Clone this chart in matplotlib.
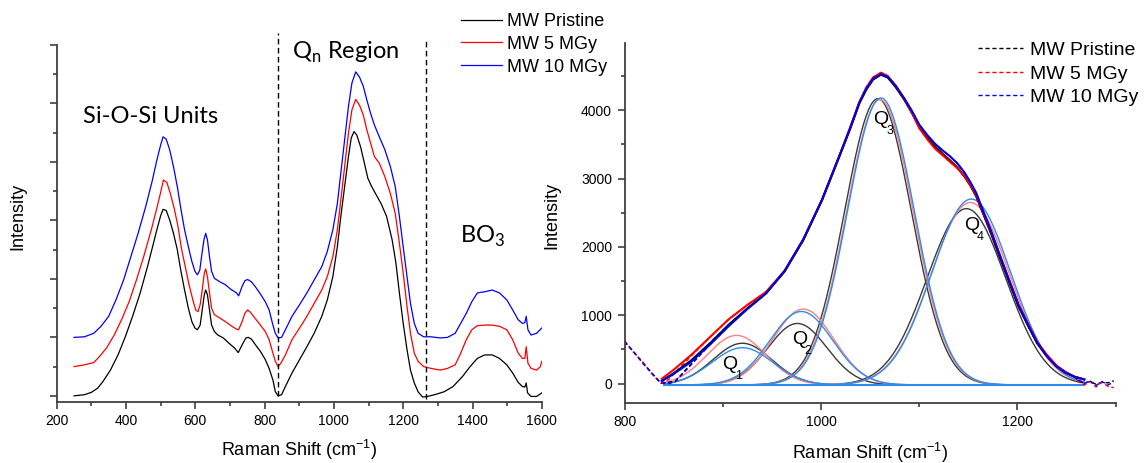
import numpy as np
import matplotlib
matplotlib.use("Agg")
import matplotlib.pyplot as plt
from matplotlib.ticker import MultipleLocator

plt.rcParams['font.family'] = ['Liberation Sans', 'DejaVu Sans']
plt.rcParams['mathtext.fontset'] = 'custom'
plt.rcParams['mathtext.rm'] = 'Liberation Sans'

# ---- left panel: full Raman spectra (offset, arbitrary intensity) ----
black_x = [250, 280, 300, 318, 334, 355, 377, 398, 419, 441, 462, 478, 489, 500, 507, 516, 526, 537, 548, 558,
           569, 580, 590, 599, 606, 614, 620, 626, 630, 635, 641, 647, 655, 665, 681, 697, 713, 724, 735, 746,
           753, 762, 774, 788, 802, 813, 824, 831, 839, 849, 860, 879, 901, 922, 943, 965, 981, 997, 1010, 1020,
           1031, 1042, 1050, 1058, 1066, 1077, 1088, 1098, 1109, 1120, 1136, 1152, 1168, 1179, 1189, 1200, 1211, 1221, 1232, 1243,
           1256, 1270, 1291, 1318, 1344, 1371, 1393, 1414, 1435, 1457, 1478, 1499, 1516, 1532, 1544, 1551, 1555, 1559, 1569, 1585,
           1600]
black_y = [0.00, 0.02, 0.06, 0.13, 0.25, 0.44, 0.70, 1.01, 1.36, 1.76, 2.21, 2.58, 2.84, 3.08, 3.19, 3.17, 3.01, 2.78, 2.50, 2.15,
           1.81, 1.50, 1.27, 1.16, 1.13, 1.21, 1.47, 1.73, 1.81, 1.73, 1.47, 1.21, 1.10, 1.04, 0.99, 0.90, 0.82, 0.74, 0.87, 0.99,
           1.00, 0.97, 0.87, 0.76, 0.62, 0.47, 0.27, 0.07, 0.00, 0.02, 0.16, 0.39, 0.62, 0.84, 1.07, 1.36, 1.64, 2.04, 2.55, 3.07,
           3.58, 4.09, 4.41, 4.52, 4.46, 4.26, 3.98, 3.72, 3.58, 3.46, 3.29, 3.07, 2.67, 2.27, 1.76, 1.24, 0.79, 0.44, 0.22, 0.07,
           -0.02, -0.01, 0.02, 0.07, 0.16, 0.33, 0.50, 0.64, 0.70, 0.70, 0.64, 0.53, 0.39, 0.23, 0.16, 0.15, 0.22, 0.05, -0.01, -0.01,
           0.05]

red_x = [250, 280, 307, 323, 344, 366, 387, 409, 430, 451, 473, 489, 500, 508, 518, 528, 539, 550, 560, 571,
         582, 593, 601, 608, 614, 620, 626, 630, 635, 641, 647, 655, 671, 687, 703, 719, 725, 735, 743, 751,
         759, 772, 788, 802, 813, 824, 831, 839, 847, 860, 879, 901, 922, 943, 965, 981, 997, 1010, 1020, 1031,
         1042, 1052, 1063, 1074, 1085, 1095, 1106, 1117, 1131, 1147, 1163, 1177, 1189, 1200, 1211, 1221, 1232, 1243, 1259, 1280,
         1307, 1328, 1350, 1366, 1382, 1398, 1414, 1435, 1457, 1478, 1499, 1516, 1532, 1544, 1551, 1555, 1560, 1569, 1585, 1596,
         1600]
red_y = [0.50, 0.53, 0.57, 0.67, 0.82, 1.04, 1.30, 1.61, 1.98, 2.38, 2.84, 3.21, 3.48, 3.69, 3.65, 3.46, 3.21, 2.90, 2.52, 2.21,
         1.90, 1.64, 1.47, 1.44, 1.56, 1.81, 2.10, 2.17, 2.04, 1.76, 1.50, 1.39, 1.33, 1.27, 1.20, 1.14, 1.13, 1.27, 1.41, 1.47,
         1.43, 1.33, 1.21, 1.10, 0.96, 0.73, 0.59, 0.50, 0.56, 0.70, 0.96, 1.16, 1.36, 1.58, 1.81, 2.04, 2.38, 2.84, 3.35, 3.92,
         4.49, 4.89, 5.07, 4.97, 4.80, 4.55, 4.32, 4.09, 3.98, 3.75, 3.46, 3.12, 2.61, 2.10, 1.53, 1.07, 0.73, 0.59, 0.50, 0.47,
         0.44, 0.47, 0.53, 0.73, 0.96, 1.13, 1.20, 1.21, 1.21, 1.19, 1.13, 0.96, 0.73, 0.64, 0.64, 0.84, 0.56, 0.47, 0.44, 0.50,
         0.59]

blue_x = [250, 280, 307, 328, 350, 371, 393, 414, 435, 457, 475, 489, 500, 507, 516, 526, 537, 548, 558, 569,
          580, 590, 599, 606, 613, 618, 625, 630, 635, 641, 647, 655, 671, 687, 703, 719, 725, 735, 743, 751,
          762, 774, 788, 802, 813, 824, 831, 839, 849, 860, 879, 901, 922, 943, 965, 981, 997, 1010, 1020, 1031,
          1042, 1052, 1063, 1074, 1085, 1095, 1106, 1117, 1131, 1147, 1163, 1177, 1189, 1200, 1211, 1221, 1232, 1243, 1259, 1280,
          1307, 1328, 1350, 1366, 1382, 1398, 1414, 1435, 1457, 1478, 1499, 1516, 1532, 1544, 1551, 1555, 1560, 1569, 1585, 1600]
blue_y = [1.00, 1.01, 1.07, 1.19, 1.36, 1.64, 1.98, 2.38, 2.78, 3.24, 3.66, 4.03, 4.29, 4.43, 4.39, 4.21, 3.92, 3.58, 3.21, 2.84,
          2.55, 2.30, 2.13, 2.07, 2.15, 2.38, 2.67, 2.78, 2.67, 2.38, 2.13, 2.01, 1.95, 1.90, 1.82, 1.76, 1.71, 1.87, 1.97, 1.99,
          1.95, 1.86, 1.74, 1.61, 1.47, 1.21, 1.07, 0.99, 1.00, 1.13, 1.36, 1.56, 1.76, 1.98, 2.21, 2.47, 2.84, 3.29, 3.81, 4.38,
          4.95, 5.35, 5.54, 5.45, 5.29, 5.06, 4.83, 4.63, 4.43, 4.21, 3.92, 3.58, 3.07, 2.55, 2.04, 1.58, 1.24, 1.07, 1.01, 1.01,
          0.99, 1.00, 1.07, 1.24, 1.41, 1.61, 1.76, 1.78, 1.81, 1.76, 1.64, 1.47, 1.30, 1.24, 1.25, 1.36, 1.13, 1.04, 1.07, 1.16]

labels = ["MW Pristine", "MW 5 MGy", "MW 10 MGy"]
region_bounds = [839, 1265]

# ---- right panel: Qn region, fitted envelope and raw data ----
env_x = [838, 849, 868, 887, 906, 925, 944, 963, 982, 1001, 1020, 1030, 1039, 1046, 1053, 1061, 1068, 1076, 1085, 1093,
         1100, 1108, 1116, 1124, 1131, 1139, 1146, 1152, 1158, 1165, 1173, 1182, 1192, 1201, 1211, 1220, 1230, 1240, 1249, 1258,
         1268]
env_black = [40, 140, 340, 590, 860, 1100, 1320, 1640, 2100, 2680, 3370, 3740, 4100, 4300, 4450, 4520, 4480, 4340, 4150, 3950,
             3760, 3600, 3470, 3360, 3270, 3160, 3030, 2900, 2740, 2490, 2200, 1850, 1470, 1130, 840, 590, 400, 250, 160, 100,
             60]
env_red = [70, 190, 420, 680, 940, 1150, 1340, 1650, 2110, 2690, 3380, 3760, 4120, 4330, 4480, 4550, 4500, 4360, 4160, 3950,
           3740, 3580, 3440, 3340, 3250, 3150, 3040, 2910, 2760, 2510, 2230, 1880, 1500, 1160, 870, 610, 420, 260, 170, 100,
           60]
env_blue = [40, 130, 320, 570, 840, 1090, 1320, 1650, 2110, 2690, 3380, 3750, 4110, 4310, 4460, 4530, 4490, 4360, 4170, 3980,
            3790, 3640, 3510, 3410, 3330, 3220, 3090, 2950, 2790, 2530, 2240, 1880, 1490, 1150, 850, 600, 400, 250, 160, 100,
            60]

raw_x = [800, 809, 819, 828, 837, 845, 852] + env_x[3:-1] + [1262, 1268, 1274, 1280, 1286, 1292, 1298]
raw_black = [620, 470, 300, 150, 10, 20, 40] + env_black[3:-1] + [40, 10, 30, -10, 20, 10, 40]
raw_red = [630, 460, 310, 140, 5, 60, 170] + env_red[3:-1] + [30, -20, 30, -50, 20, -40, -60]
raw_blue = [610, 470, 290, 150, 5, 0, 30] + env_blue[3:-1] + [50, 0, 40, -30, 30, -20, 20]

# Gaussian components Q1..Q4: centre (cm-1), height, sigma
q_centre = {"black": [920, 976, 1058, 1148], "red": [914, 982, 1060, 1152], "blue": [920, 980, 1061, 1153]}
q_height = {"black": [610, 900, 4190, 2580], "red": [725, 1110, 4175, 2670], "blue": [545, 1075, 4200, 2720]}
q_sigma = {"black": [30, 30, 34, 40], "red": [30, 31, 34, 40], "blue": [31, 32, 34, 40]}
q_base = -20
q_label_pos = [(907, 280), (978, 650), (1061, 3860), (1153, 2310)]

fig = plt.figure(figsize=(11.47, 4.63), dpi=100)
W, H = 1147, 463


def style_axis(ax):
    for side in ["top", "right"]:
        ax.spines[side].set_visible(False)
    for side in ["left", "bottom"]:
        ax.spines[side].set_linewidth(1.3)
        ax.spines[side].set_color("#404040")
    ax.tick_params(which="major", direction="out", length=5, width=1.2, color="#404040",
                   labelsize=10, pad=4)
    ax.tick_params(which="minor", direction="out", length=3, width=1.2, color="#404040")


# left panel
ax1 = fig.add_axes([56.7 / W, (H - 401.7) / H, 485.1 / W, 356.7 / H])
style_axis(ax1)
ax1.plot(black_x, black_y, color="black", lw=0.9, label=labels[0])
ax1.plot(red_x, red_y, color="#ff0000", lw=0.9, label=labels[1])
ax1.plot(blue_x, blue_y, color="#0000ff", lw=0.9, label=labels[2])
ax1.plot([region_bounds[0]] * 2, [0.0, 6.2], color="black", lw=1.0, ls=(0, (4, 2.5)), clip_on=False)
ax1.plot([region_bounds[1]] * 2, [-0.05, 6.06], color="black", lw=1.0, ls=(0, (4, 2.5)), clip_on=False)
ax1.set_xlim(200, 1600)
ax1.set_ylim(-0.1, 6.0)
ax1.xaxis.set_major_locator(MultipleLocator(200))
ax1.xaxis.set_minor_locator(MultipleLocator(100))
ax1.yaxis.set_major_locator(MultipleLocator(1))
ax1.yaxis.set_minor_locator(MultipleLocator(0.5))
ax1.set_yticklabels([])
ax1.set_xlabel(r"Raman Shift (cm$^{\mathregular{-1}}$)", fontsize=13)
ax1.set_ylabel("Intensity", fontsize=13)
ax1.yaxis.set_label_coords((17.6 - 56.7) / 485.1, 0.52)
ax1.text(276, 4.77, "Si-O-Si Units", fontsize=17, family="Lato", va="center", ha="left")
ax1.text(880, 5.87, r"Q$_{\mathregular{n}}$ Region", fontsize=17, family="Lato", va="center", ha="left")
ax1.text(1363, 2.72, r"BO$_{\mathregular{3}}$", fontsize=17, family="Lato", va="center", ha="left")
ax1.legend(loc="upper left", bbox_to_anchor=(461 / W, 1 - 13 / H), bbox_transform=fig.transFigure,
           frameon=False, fontsize=13, handlelength=2.27, handletextpad=0.3, labelspacing=0.32,
           borderpad=0, borderaxespad=0)

# right panel
ax2 = fig.add_axes([624.5 / W, (H - 402.7) / H, 491.2 / W, 359.4 / H])
style_axis(ax2)
comp_x = np.linspace(840, 1268, 400)
comp_colors = {"black": "#3a3a3a", "red": "#ff7f7f", "blue": "#2b8cf0"}
for key in ["black", "red", "blue"]:
    for c, h, s in zip(q_centre[key], q_height[key], q_sigma[key]):
        ax2.plot(comp_x, q_base + h * np.exp(-(comp_x - c) ** 2 / (2 * s ** 2)),
                 color=comp_colors[key], lw=1.0)
ax2.plot([840, 1268], [q_base, q_base], color="#2b8cf0", lw=1.5)

ax2.plot(raw_x, raw_black, color="black", lw=1.0, ls=(0, (3, 2)), label=labels[0])
ax2.plot(raw_x, raw_red, color="#ff0000", lw=1.0, ls=(0, (3, 2)), label=labels[1])
ax2.plot(raw_x, raw_blue, color="#0000ff", lw=1.0, ls=(0, (3, 2)), label=labels[2])
ax2.plot(env_x, env_black, color="black", lw=1.5)
ax2.plot(env_x, env_red, color="#ff0000", lw=1.5)
ax2.plot(env_x, env_blue, color="#0000e0", lw=1.5)

for i, (qx, qy) in enumerate(q_label_pos):
    ax2.text(qx, qy, "Q", fontsize=14, ha="center", va="center")
    ax2.text(qx + 9, qy - 170, str(i + 1), fontsize=9, ha="center", va="center")

ax2.set_xlim(800, 1300)
ax2.set_ylim(-280, 4980)
ax2.xaxis.set_major_locator(MultipleLocator(200))
ax2.xaxis.set_minor_locator(MultipleLocator(100))
ax2.yaxis.set_major_locator(MultipleLocator(1000))
ax2.yaxis.set_minor_locator(MultipleLocator(500))
ax2.set_xlabel(r"Raman Shift (cm$^{\mathregular{-1}}$)", fontsize=13)
ax2.set_ylabel("Intensity", fontsize=13)
ax2.yaxis.set_label_coords((551.7 - 624.5) / 491.2, 0.52)
ax2.legend(loc="upper left", bbox_to_anchor=(978 / W, 1 - 41.5 / H), bbox_transform=fig.transFigure,
           frameon=False, fontsize=14, handlelength=2.31, handletextpad=0.36, labelspacing=0.3,
           borderpad=0, borderaxespad=0)

ax1.xaxis.set_label_coords(0.5, -(450 - 401.7) / 356.7)
ax2.xaxis.set_label_coords(0.5, -(453 - 402.7) / 359.4)
for ax in (ax1, ax2):
    ax.xaxis.label.set_va("center")
    ax.yaxis.label.set_va("center")

fig.savefig("out.png", dpi=100)
